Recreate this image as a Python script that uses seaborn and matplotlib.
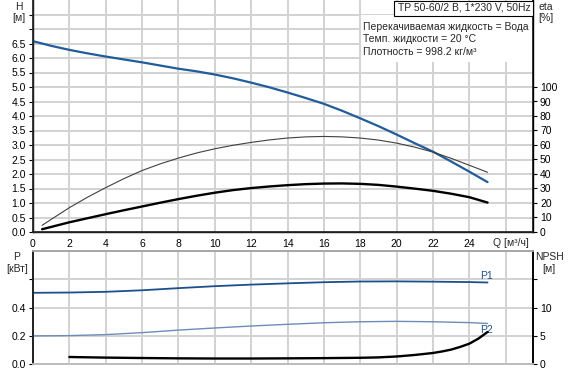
import matplotlib
matplotlib.use("Agg")
import matplotlib.pyplot as plt
from matplotlib.patches import Rectangle
import seaborn as sns
import numpy as np

# ---- data ----
q_h = [0, 1, 2, 3, 4, 5, 6, 7, 8, 9, 10, 11, 12, 13, 14, 15, 16, 17, 18, 19, 20, 21, 22, 23, 24, 25]
h_vals = [6.58, 6.42, 6.28, 6.16, 6.05, 5.95, 5.85, 5.74, 5.63, 5.54, 5.43, 5.30, 5.15, 4.99, 4.81,
          4.62, 4.42, 4.18, 3.92, 3.65, 3.36, 3.06, 2.77, 2.43, 2.08, 1.72]

q_eta = [0.5, 1, 2, 3, 4, 5, 6, 7, 8, 9, 10, 11, 12, 13, 14, 15, 16, 17, 18, 19, 20, 21, 22, 23, 24, 25]
eta_pump = [4.6, 8.7, 16.8, 24.0, 30.6, 36.8, 42.4, 47.0, 51.0, 54.5, 57.4, 59.8, 61.8, 63.5, 64.8,
            65.6, 65.9, 65.6, 64.8, 63.4, 61.3, 58.5, 55.1, 50.8, 46.0, 41.2]
eta_total = [1.9, 3.5, 6.7, 9.5, 12.3, 15.0, 17.6, 20.2, 22.7, 25.0, 27.1, 28.9, 30.3, 31.4, 32.3,
             33.0, 33.4, 33.5, 33.2, 32.5, 31.3, 29.9, 28.4, 26.4, 24.0, 20.3]

q_p = [0, 2, 4, 6, 8, 10, 12, 14, 16, 18, 20, 22, 24, 25]
p1_vals = [0.504, 0.506, 0.511, 0.522, 0.537, 0.551, 0.562, 0.571, 0.579, 0.584, 0.585, 0.583, 0.580, 0.577]
p2_vals = [0.199, 0.201, 0.208, 0.222, 0.240, 0.255, 0.269, 0.281, 0.292, 0.299, 0.302, 0.299, 0.293, 0.287]

q_npsh = [2, 4, 6, 8, 10, 12, 14, 16, 17, 18, 19, 20, 21, 22, 22.5, 23, 23.5, 24, 24.5, 25]
npsh_vals = [1.24, 1.13, 1.06, 1.0, 0.97, 0.97, 1.0, 1.04, 1.07, 1.1, 1.17, 1.33, 1.6, 1.95, 2.22,
             2.55, 3.03, 3.6, 4.5, 5.67]

x_ticks = [0, 2, 4, 6, 8, 10, 12, 14, 16, 18, 20, 22, 24]
h_ticks = [0.0, 0.5, 1.0, 1.5, 2.0, 2.5, 3.0, 3.5, 4.0, 4.5, 5.0, 5.5, 6.0, 6.5, 7.0, 7.5]
h_labels = ["0.0", "0.5", "1.0", "1.5", "2.0", "2.5", "3.0", "3.5", "4.0", "4.5", "5.0", "5.5", "6.0", "6.5", "", ""]
eta_ticks = [0, 10, 20, 30, 40, 50, 60, 70, 80, 90, 100]
p_ticks = [0.0, 0.2, 0.4, 0.6]
p_labels = ["0.0", "0.2", "0.4", ""]
npsh_ticks = [0, 5, 10, 15]
npsh_labels = ["0", "5", "10", ""]

title_text = "TP 50-60/2 B, 1*230 V, 50Hz"
info_lines = ["Перекачиваемая жидкость = Вода", "Темп. жидкости = 20 °C", "Плотность = 998.2 кг/м³"]

# ---- style ----
sns.set_theme(style="white")
plt.rcParams['font.family'] = ['Liberation Sans', 'DejaVu Sans']
FS = 7.5
W, H = 573, 372
BLUE = '#215c9b'
GRID = '#d2d2d2'

fig = plt.figure(figsize=(W / 100, H / 100), dpi=100)
fig.patch.set_facecolor('white')

def fx(px):
    return px / W

def fy(py):
    return 1 - py / H

ax = fig.add_axes([fx(33), fy(232), fx(533) - fx(33), fy(0) - fy(232)])
ax2 = ax.twinx()
bx = fig.add_axes([fx(33), fy(364), fx(533) - fx(33), fy(251) - fy(364)])
bx2 = bx.twinx()

for a in (ax, ax2, bx, bx2):
    a.set_facecolor('none')
ax.set_facecolor('white')
bx.set_facecolor('white')

# top axes
ax.set_xlim(0, 27.5)
ax.set_ylim(0, 8.0)
ax2.set_ylim(0, 160)
for xv in range(0, 27, 2):
    ax.axvline(xv, color=GRID, lw=1.4, zorder=0)
for yv in np.arange(0.5, 8.0, 0.5):
    ax.axhline(yv, color=GRID, lw=1.4, zorder=0)

sns.lineplot(x=q_h, y=h_vals, ax=ax, color=BLUE, lw=1.6, estimator=None, sort=False, zorder=3)
sns.lineplot(x=q_eta, y=eta_pump, ax=ax2, color='#404040', lw=0.8, estimator=None, sort=False, zorder=3)
sns.lineplot(x=q_eta, y=eta_total, ax=ax2, color='black', lw=1.7, estimator=None, sort=False, zorder=3)

ax.set_xticks(x_ticks)
ax.set_xticklabels([str(v) for v in x_ticks], fontsize=FS)
ax.set_yticks(h_ticks)
ax.set_yticklabels(h_labels, fontsize=FS)
ax2.set_yticks(eta_ticks)
ax2.set_yticklabels([str(v) for v in eta_ticks], fontsize=FS)
for a in (ax, ax2):
    a.tick_params(axis='both', which='both', direction='out', length=3, width=0.8,
                  colors='black', pad=2, labelsize=FS)
    a.set_xlabel('')
    a.set_ylabel('')
ax.spines['top'].set_visible(False)
ax2.spines['top'].set_visible(False)
for s in ('left', 'bottom'):
    ax.spines[s].set_color('black')
    ax.spines[s].set_linewidth(1.0)
ax2.spines['right'].set_color('black')
ax2.spines['right'].set_linewidth(1.0)

# bottom axes
bx.set_xlim(0, 27.5)
bx.set_ylim(0, 0.8)
bx2.set_ylim(0, 20)
for xv in range(2, 27, 2):
    bx.axvline(xv, color=GRID, lw=1.4, zorder=0)
for yv in [0.2, 0.4, 0.6]:
    bx.axhline(yv, color=GRID, lw=1.4, zorder=0)

sns.lineplot(x=q_p, y=p1_vals, ax=bx, color='#1d4f8c', lw=1.3, estimator=None, sort=False, zorder=3)
sns.lineplot(x=q_p, y=p2_vals, ax=bx, color='#6f8cb8', lw=1.0, estimator=None, sort=False, zorder=3)
sns.lineplot(x=q_npsh, y=npsh_vals, ax=bx2, color='black', lw=1.7, estimator=None, sort=False, zorder=3)

bx.text(24.95, 0.622, "P1", color='#1d4f8c', fontsize=FS, ha='center', va='center')
bx.text(24.95, 0.238, "P2", color='#1d4f8c', fontsize=FS, ha='center', va='center')

bx.set_xticks([])
bx2.set_xticks([])
bx.set_yticks(p_ticks)
bx.set_yticklabels(p_labels, fontsize=FS)
bx2.set_yticks(npsh_ticks)
bx2.set_yticklabels(npsh_labels, fontsize=FS)
for a in (bx, bx2):
    a.tick_params(axis='y', which='both', direction='out', length=3, width=0.8,
                  colors='black', pad=2, labelsize=FS)
    a.set_xlabel('')
    a.set_ylabel('')
for a in (bx, bx2):
    a.spines['top'].set_color('#a8a8a8')
    a.spines['bottom'].set_color('#bdbdbd')
    a.spines['top'].set_linewidth(1.3)
    a.spines['bottom'].set_linewidth(1.3)
bx.spines['left'].set_color('black')
bx2.spines['right'].set_color('black')

# axis unit labels
fig.text(fx(19), fy(7), "H", fontsize=FS, ha='center', va='center')
fig.text(fx(19), fy(18), "[м]", fontsize=FS, ha='center', va='center')
fig.text(fx(546), fy(7), "eta", fontsize=FS, ha='center', va='center')
fig.text(fx(546), fy(18), "[%]", fontsize=FS, ha='center', va='center')
fig.text(fx(17), fy(257), "P", fontsize=FS, ha='center', va='center')
fig.text(fx(17), fy(269), "[кВт]", fontsize=FS, ha='center', va='center')
fig.text(fx(549), fy(257), "NPSH", fontsize=FS, ha='center', va='center')
fig.text(fx(549), fy(269), "[м]", fontsize=FS, ha='center', va='center')
fig.text(fx(511), fy(243), "Q [м³/ч]", fontsize=FS, ha='center', va='center')

# info box
fig.patches.append(Rectangle((fx(361), fy(62)), fx(532) - fx(361), fy(15) - fy(62),
                             transform=fig.transFigure, facecolor='white', edgecolor='none', zorder=1))
for i, line in enumerate(info_lines):
    fig.text(fx(363), fy(27 + 12.5 * i), line, fontsize=FS, ha='left', va='center', zorder=3)

# title box
fig.patches.append(Rectangle((fx(394), fy(15.5)), fx(532.5) - fx(394), fy(0.5) - fy(15.5),
                             transform=fig.transFigure, facecolor='white', edgecolor='black',
                             lw=0.8, zorder=2))
fig.text(fx(398), fy(8), title_text, fontsize=FS, ha='left', va='center', zorder=3)

fig.savefig("out.png", dpi=100, facecolor='white')
